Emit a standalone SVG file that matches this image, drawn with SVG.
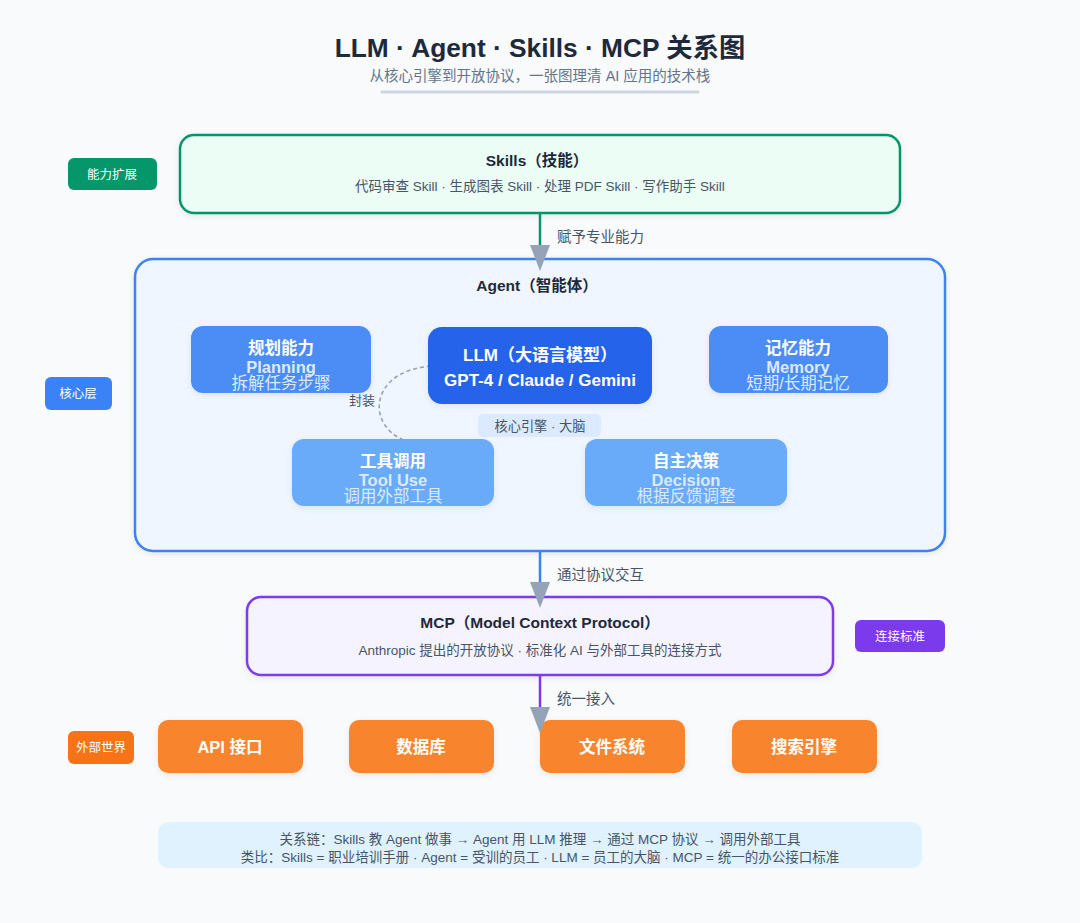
<svg xmlns="http://www.w3.org/2000/svg" width="1080" height="923" viewBox="0 0 1080 923">
<defs>
<style>
text{font-family:"Liberation Sans","Noto Sans CJK SC",sans-serif;text-anchor:middle}
.t{font-weight:bold;fill:#1e293b}
.s{fill:#475569;font-size:13.5px}
.tag{fill:#fff;font-size:12.5px}
.cap rect{fill:#4b8cf5}
.cap2 rect{fill:#6aabf9}
.h{fill:#fff;font-size:16.5px;font-weight:bold}
.e{fill:#dbeafe;font-size:16.5px;font-weight:bold}
.z{fill:#dbeafe;font-size:16.5px}
.lab{fill:#475569;font-size:14.5px;text-anchor:start}
.ext rect{fill:#f8852f}
.ext text{fill:#fff;font-size:16.5px;font-weight:bold}
</style>
<filter id="sh" x="-10%" y="-20%" width="120%" height="150%">
<feDropShadow dx="0" dy="2" stdDeviation="3" flood-color="#0f172a" flood-opacity="0.08"/>
</filter>
</defs>
<rect width="1080" height="923" fill="#f8fafc"/>
<g id="title">
<text x="540" y="57" class="t" font-size="26.3">LLM · Agent · Skills · MCP 关系图</text>
<text x="540" y="81" fill="#64748b" font-size="14.5">从核心引擎到开放协议，一张图理清 AI 应用的技术栈</text>
<line x1="382" y1="92" x2="698" y2="92" stroke="#cbd5e1" stroke-width="3" stroke-linecap="round"/>
</g>
<g id="tag-skills"><rect x="68" y="158" width="89" height="32" rx="6" fill="#059669"/><text x="112" y="179" class="tag">能力扩展</text></g>
<g id="tag-core"><rect x="45" y="377" width="67" height="33" rx="6" fill="#3b82f6"/><text x="78" y="398" class="tag">核心层</text></g>
<g id="tag-mcp"><rect x="855" y="620" width="90" height="32" rx="6" fill="#7c3aed"/><text x="900" y="641" class="tag">连接标准</text></g>
<g id="tag-ext"><rect x="68" y="731" width="66" height="33" rx="6" fill="#f97316"/><text x="101" y="752" class="tag">外部世界</text></g>
<g id="skills"><rect x="180" y="135" width="720" height="78" rx="14" fill="#ecfdf5" stroke="#059669" stroke-width="2.5" filter="url(#sh)"/>
<text x="537" y="166" class="t" font-size="15.5">Skills（技能）</text>
<text x="540" y="191" class="s">代码审查 Skill · 生成图表 Skill · 处理 PDF Skill · 写作助手 Skill</text></g>
<g id="agent"><rect x="135" y="259" width="810" height="292" rx="18" fill="#eff6ff" stroke="#3b82f6" stroke-width="2.5" filter="url(#sh)"/>
<text x="537" y="291" class="t" font-size="15.5">Agent（智能体）</text></g>
<g id="tool-dash"><path d="M438 366 C 360 366, 362 445, 430 445" fill="none" stroke="#94a3b8" stroke-width="1.6" stroke-dasharray="4 3"/>
<text x="362" y="405" fill="#475569" font-size="13">封装</text></g>
<g id="planning" class="cap"><rect x="191" y="326" width="180" height="67" rx="12" filter="url(#sh)"/>
<text x="281" y="354" class="h">规划能力</text><text x="281" y="373" class="e">Planning</text><text x="281" y="389" class="z">拆解任务步骤</text></g>
<g id="llm"><rect x="428" y="327" width="224" height="77" rx="14" fill="#2563eb" filter="url(#sh)"/>
<text x="540" y="361" fill="#fff" font-size="17" font-weight="bold">LLM（大语言模型）</text>
<text x="540" y="386" fill="#fff" font-size="17" font-weight="bold">GPT-4 / Claude / Gemini</text></g>
<g id="memory" class="cap"><rect x="709" y="326" width="179" height="67" rx="12" filter="url(#sh)"/>
<text x="798" y="354" class="h">记忆能力</text><text x="798" y="373" class="e">Memory</text><text x="798" y="389" class="z">短期/长期记忆</text></g>
<g id="brain"><rect x="478" y="414" width="123" height="23" rx="5" fill="#dbeafe"/><text x="540" y="431" fill="#475569" font-size="13.2">核心引擎 · 大脑</text></g>
<g id="tooluse" class="cap2"><rect x="292" y="439" width="202" height="67" rx="12" filter="url(#sh)"/>
<text x="393" y="467" class="h">工具调用</text><text x="393" y="486" class="e">Tool Use</text><text x="393" y="502" class="z">调用外部工具</text></g>
<g id="decision" class="cap2"><rect x="585" y="439" width="202" height="67" rx="12" filter="url(#sh)"/>
<text x="686" y="467" class="h">自主决策</text><text x="686" y="486" class="e">Decision</text><text x="686" y="502" class="z">根据反馈调整</text></g>
<g id="mcp"><rect x="247" y="597" width="586" height="78" rx="14" fill="#f5f3ff" stroke="#7c3aed" stroke-width="2.5" filter="url(#sh)"/>
<text x="540" y="628" class="t" font-size="15.5">MCP（Model Context Protocol）</text>
<text x="540" y="655" class="s">Anthropic 提出的开放协议 · 标准化 AI 与外部工具的连接方式</text></g>
<g id="api" class="ext"><rect x="158" y="720" width="145" height="53" rx="10" filter="url(#sh)"/><text x="230" y="753">API 接口</text></g>
<g id="db" class="ext"><rect x="349" y="720" width="145" height="53" rx="10" filter="url(#sh)"/><text x="421" y="753">数据库</text></g>
<g id="fs" class="ext"><rect x="540" y="720" width="145" height="53" rx="10" filter="url(#sh)"/><text x="612" y="753">文件系统</text></g>
<g id="search" class="ext"><rect x="732" y="720" width="145" height="53" rx="10" filter="url(#sh)"/><text x="804" y="753">搜索引擎</text></g>
<g id="connectors">
<line x1="540" y1="213" x2="540" y2="246" stroke="#059669" stroke-width="2.5"/>
<polygon points="530,245 550,245 540,271" fill="#94a3b8"/>
<text x="557" y="242" class="lab">赋予专业能力</text>
<line x1="540" y1="551" x2="540" y2="583" stroke="#3b82f6" stroke-width="2.5"/>
<polygon points="530,582 550,582 540,608" fill="#94a3b8"/>
<text x="557" y="580" class="lab">通过协议交互</text>
<line x1="540" y1="675" x2="540" y2="708" stroke="#7c3aed" stroke-width="2.5"/>
<polygon points="530,707 550,707 540,733" fill="#94a3b8"/>
<text x="557" y="704" class="lab">统一接入</text>
</g>
<g id="note"><rect x="158" y="822" width="764" height="46" rx="10" fill="#e0f2fe"/>
<text x="540" y="844" class="s">关系链：Skills 教 Agent 做事 → Agent 用 LLM 推理 → 通过 MCP 协议 → 调用外部工具</text>
<text x="540" y="862" class="s">类比：Skills = 职业培训手册 · Agent = 受训的员工 · LLM = 员工的大脑 · MCP = 统一的办公接口标准</text></g>
</svg>
